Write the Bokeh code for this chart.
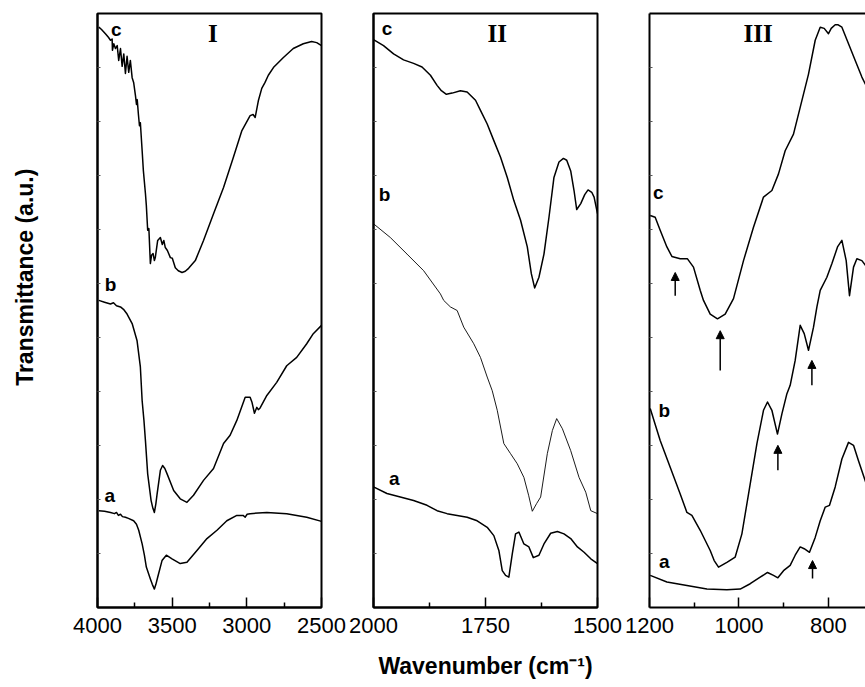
import math
from bokeh.plotting import figure
from bokeh.layouts import row
from bokeh.models import Range1d, FixedTicker, Label, Arrow, NormalHead, LinearAxis
from bokeh.embed import file_html
from bokeh.resources import INLINE

# ---------------- data (wavenumber in cm-1, transmittance in a.u.) ----------------
# Panel I (4000-2500)
p1c_wn = [3991,3973,3947,3927,3913,3902,3900,3891,3880,3868,3858,3846,3835,3824,3813,3802,3791,3780,3768,3758,
          3746,3739,3734,3726,3719,3713,3701,3693,3679,3673,3664,3656,3646,3638,3628,3619,3613,3597,3579,3566,
          3556,3546,3532,3512,3499,3479,3459,3434,3412,3390,3345,3290,3223,3156,3090,3033,2978,2958,2944,2922,
          2900,2878,2856,2822,2755,2689,2622,2566,2532,2500]
p1c_t = [97.7,97.3,96.6,96.0,95.5,95.7,93.8,94.9,94.1,94.6,92.1,94.1,91.1,93.2,89.9,92.8,90.1,92.1,89.2,88.4,
         86.2,84.7,85.5,83.0,81.1,81.6,76.9,73.6,69.7,67.7,63.5,63.8,57.9,59.3,59.6,58.4,58.9,61.8,62.3,61.1,
         61.8,60.6,60.1,58.9,58.8,57.2,56.7,56.4,56.6,57.1,58.4,61.8,66.3,70.7,75.8,80.3,82.8,83.0,82.5,85.4,
         87.4,88.4,89.6,90.9,92.6,94.1,94.9,95.3,95.1,94.6]
p1b_wn = [3991,3953,3913,3893,3873,3846,3826,3802,3768,3735,3713,3701,3689,3679,3664,3641,3629,3619,3609,3601,
          3579,3564,3549,3534,3490,3446,3401,3357,3290,3223,3156,3112,3067,3011,2978,2965,2949,2933,2923,2911,
          2866,2800,2733,2666,2599,2555,2500]
p1b_t = [51.7,51.4,51.1,51.3,50.8,50.6,50.2,49.4,47.8,44.9,40.5,34.8,31.5,28.1,22.5,18.0,16.7,16.0,17.5,19.1,
         23.1,23.9,23.4,22.5,19.7,18.3,17.7,18.9,21.4,23.4,27.6,29.0,31.5,35.4,35.4,34.5,32.7,33.7,33.3,33.6,
         35.7,37.9,40.7,42.1,44.4,46.1,47.5]
p1a_wn = [3991,3953,3913,3886,3873,3860,3846,3833,3813,3793,3758,3739,3724,3701,3686,3673,3646,3633,3619,3609,
          3597,3568,3539,3501,3446,3401,3334,3267,3200,3134,3067,3025,3011,2998,2978,2866,2733,2599,2500]
p1a_t = [16.3,16.2,16.0,15.8,16.0,15.5,15.7,15.3,15.2,15.0,14.6,14.0,13.0,10.7,8.8,6.8,4.8,3.9,3.1,3.9,
         5.1,7.9,8.8,8.2,7.4,7.6,9.6,11.6,13.0,14.6,15.5,15.5,15.2,15.7,15.8,16.0,15.8,15.2,14.5]

# Panel II (2000-1500)
p2c_wn = [2000,1977.6,1955.2,1932.9,1910.5,1891.7,1872.9,1858.1,1848.5,1837.3,1824.5,1806,1791,1772.3,1761.2,
          1746.2,1731.4,1716.4,1701.4,1686.7,1671.7,1656.7,1647.7,1640.3,1630.7,1619.5,1608.3,1597.2,1586,1576.1,
          1568.7,1559.8,1552.4,1546.4,1537.4,1528.5,1521.1,1512.8,1507.6,1500]
p2c_t = [95.6,94.6,93.2,92.2,91.6,91.0,89.6,87.9,87.0,86.4,86.6,87.0,86.8,85.4,83.7,
         81.4,78.6,75.8,72.4,68.5,65.2,60.7,56.2,53.8,55.6,59.5,65.7,72.4,75.0,75.6,
         75.3,73.5,70.2,67.0,68.0,69.5,70.3,69.9,69.1,66.3]
p2b_wn = [2000,1962.6,1925.2,1888.1,1850.7,1843.3,1828.3,1813.3,1798.6,1776.2,1761.2,1746.2,1735,1723.8,1709.1,
          1694.1,1679.1,1664.3,1653.8,1645.5,1635.9,1626.9,1612,1600.7,1591.1,1578.4,1559.8,1541.2,1526.2,1515,1500]
p2b_t = [64.6,62.3,59.5,56.7,52.8,51.7,50.6,50.0,47.2,44.4,42.1,38.8,36.5,33.2,27.6,
         25.9,24.2,21.9,18.9,16.2,17.5,18.6,25.9,29.8,31.8,30.1,26.4,21.9,19.4,16.3,15.8]
p2a_wn = [2000,1970,1940.2,1910.5,1880.5,1858.1,1835.7,1813.3,1791,1768.6,1746.2,1731.4,1720.2,1712.6,1705.2,
          1697.9,1690.3,1682.9,1675.5,1664.3,1653.1,1643.3,1630.7,1619.5,1604.5,1589.5,1574.8,1559.8,1544.8,1530,
          1515,1500]
p2a_t = [20.3,19.2,18.6,18.0,17.2,16.3,15.8,15.5,15.2,14.6,13.5,12.1,9.6,6.2,5.4,
         5.1,9.0,12.4,12.7,10.7,10.2,8.4,8.8,10.7,12.5,12.8,12.4,11.6,10.2,9.3,
         8.2,7.4]

# Panel III (1200-700)
p3c_wn = [1198.4,1187.3,1176.1,1161.1,1149.9,1131.3,1115,1101.6,1086.6,1079.2,1064.2,1047.9,1030.7,1012.1,989.7,
          967.4,945,926.2,911.4,896.5,877.9,862.9,844.3,829.3,818.1,809.2,799.6,793.5,784.6,777.9,
          769.6,754.8,739.8,724.9,713.7]
p3c_t = [66.0,65.7,63.5,60.7,59.1,58.7,58.7,57.3,53.4,51.7,49.4,48.6,49.4,52.0,58.4,
         64.0,69.1,70.2,73.0,76.9,79.7,84.2,89.8,95.5,97.7,97.5,96.6,97.5,98.1,98.1,
         97.7,94.9,92.1,89.3,87.6]
p3b_wn = [1198.4,1176.1,1153.7,1131.3,1116.3,1105.2,1086.6,1064.2,1055.3,1045.6,1026.9,1008.3,993.3,978.5,959.7,
          945,936,926.2,913.7,903.8,892.6,885.3,874.1,862.9,853.9,844.3,833.1,825.5,818.1,803.2,
          791.9,779.4,769.6,760,752.6,743.6,736.1,724.9,713.7]
p3b_t = [33.5,28.1,23.6,19.1,16.0,15.5,13.0,9.6,7.9,6.8,7.6,8.5,12.4,19.1,27.6,
         33.2,34.6,33.2,29.2,32.6,36.0,37.4,41.6,47.5,46.1,43.3,47.2,50.6,53.4,55.6,
         57.9,60.7,61.8,58.4,52.5,57.3,58.7,58.4,57.3]
p3a_wn = [1198.4,1161.1,1116.3,1071.6,1026.9,997.1,974.7,952.4,936,922.6,912.8,900.2,885.3,874.1,862.9,
          853.9,842.1,829.3,818.1,806.9,797.3,784.6,769.6,754.8,743.6,732.5,713.7]
p3a_t = [5.4,4.3,3.7,3.1,3.0,3.1,4.0,5.1,5.9,5.4,5.0,6.2,7.1,8.8,10.2,
         9.9,9.3,11.8,14.6,16.9,17.2,20.3,25.0,27.8,27.3,24.7,20.5]

# Arrows in panel III (wavenumber, tail value, head value)
arrow_wn = [1142.5, 1041.8, 912.8, 836.7, 835.3]
arrow_from = [52.5, 39.9, 23.1, 37.4, 4.9]
arrow_to = [56.4, 46.6, 27.3, 41.6, 7.9]

# Curve labels: (text, wavenumber, value) per panel
labels_I = [("c", 3874, 97.3), ("b", 3913, 54.4), ("a", 3918, 18.8)]
labels_II = [("c", 1970, 97.4), ("b", 1975.6, 69.5), ("a", 1953.7, 21.8)]
labels_III = [("c", 1180.5, 69.9), ("b", 1167, 33.2), ("a", 1167, 7.7)]
panel_titles = [("I", 3228, 96.6), ("II", 1723.8, 96.6), ("III", 956.8, 96.6)]

ticks_I = [4000, 3500, 3000, 2500]
minor_I = [3750, 3250, 2750]
ticks_II = [2000, 1750, 1500]
minor_II = [1875, 1625]
ticks_III = [1200, 1000, 800]
minor_III = [1100, 900]
y_ticks = [100.0 * k / 11 for k in range(1, 11)]

SANS = "Liberation Sans"
SERIF = "Liberation Serif"
H = 687


def make_fig(x_start, x_end, width, bl, br, majors, minors, outline=True):
    p = figure(width=width, height=H, x_range=Range1d(x_start, x_end), y_range=Range1d(0, 100),
               output_backend="svg", toolbar_location=None,
               min_border_left=bl, min_border_right=br, min_border_top=13, min_border_bottom=80)
    p.grid.visible = False
    p.background_fill_color = "white"
    p.border_fill_color = "white"
    if outline:
        p.outline_line_color = "black"
        p.outline_line_width = 2
        p.outline_line_alpha = 1.0
    else:
        p.outline_line_color = None
    xa = p.xaxis[0]
    xa.ticker = FixedTicker(ticks=majors, minor_ticks=minors)
    xa.major_label_text_font = SANS
    xa.major_label_text_font_size = "22px"
    xa.major_label_text_color = "black"
    xa.major_label_standoff = 10
    xa.major_tick_in = 10
    xa.major_tick_out = 0
    xa.minor_tick_in = 5
    xa.minor_tick_out = 0
    xa.major_tick_line_width = 1.5
    xa.minor_tick_line_width = 1.5
    xa.axis_line_width = 2
    xa.axis_line_color = "black"
    ya = p.yaxis[0]
    # only small unlabeled ticks on the left edge
    ya.ticker = FixedTicker(ticks=[], minor_ticks=y_ticks)
    ya.major_label_standoff = 0
    ya.minor_tick_in = 3
    ya.minor_tick_out = 0
    ya.minor_tick_line_color = "#555555"
    ya.minor_tick_line_width = 1
    ya.axis_line_width = 2
    ya.axis_line_color = "black"
    return p


def add_curve_labels(p, labs):
    for txt, x, y in labs:
        p.add_layout(Label(x=x, y=y, text=txt, text_font=SANS, text_font_style="bold",
                           text_font_size="19px", text_align="center", text_baseline="middle",
                           text_color="black"))


def add_title(p, t):
    txt, x, y = t
    p.add_layout(Label(x=x, y=y, text=txt, text_font=SERIF, text_font_style="bold",
                       text_font_size="25px", text_align="center", text_baseline="middle",
                       text_color="black"))


# Strip holding the y-axis title
p0 = figure(width=40, height=H, x_range=Range1d(0, 40), y_range=Range1d(0, 100),
            output_backend="svg", toolbar_location=None, x_axis_location=None, y_axis_location=None,
            min_border_left=0, min_border_right=0, min_border_top=13, min_border_bottom=80)
p0.grid.visible = False
p0.outline_line_color = None
p0.add_layout(Label(x=24, y=55.6, text="Transmittance (a.u.)", angle=math.pi / 2,
                    text_font=SANS, text_font_style="bold", text_font_size="23px",
                    text_align="center", text_baseline="middle", text_color="black"))

# Panel I
p1 = make_fig(4000, 2500, 307, 57, 26, ticks_I, minor_I)
p1.line(p1c_wn, p1c_t, line_color="black", line_width=1.5, line_join="round")
p1.line(p1b_wn, p1b_t, line_color="black", line_width=1.5, line_join="round")
p1.line(p1a_wn, p1a_t, line_color="black", line_width=1.5, line_join="round")
add_curve_labels(p1, labels_I)
add_title(p1, panel_titles[0])

# Panel II
p2 = make_fig(2000, 1500, 276, 26, 26, ticks_II, minor_II)
p2.line(p2c_wn, p2c_t, line_color="black", line_width=1.5, line_join="round")
p2.line(p2b_wn, p2b_t, line_color="black", line_width=0.9, line_join="round")
p2.line(p2a_wn, p2a_t, line_color="black", line_width=1.5, line_join="round")
add_curve_labels(p2, labels_II)
add_title(p2, panel_titles[1])
p2.xaxis[0].axis_label = "Wavenumber (cm\u207b\u00b9)"
p2.xaxis[0].axis_label_text_font = SANS
p2.xaxis[0].axis_label_text_font_style = "bold"
p2.xaxis[0].axis_label_text_font_size = "23px"
p2.xaxis[0].axis_label_text_color = "black"
p2.xaxis[0].axis_label_standoff = 17

# Panel III (cut at right edge of the picture)
p3 = make_fig(1200, 716.8, 242, 26, 0, ticks_III, minor_III, outline=False)
top_axis = LinearAxis(ticker=FixedTicker(ticks=[], minor_ticks=[]),
                      major_label_standoff=0, major_tick_in=0, major_tick_out=0,
                      minor_tick_in=0, minor_tick_out=0, axis_line_width=2, axis_line_color="black")
p3.add_layout(top_axis, "above")
p3.line(p3c_wn, p3c_t, line_color="black", line_width=1.5, line_join="round")
p3.line(p3b_wn, p3b_t, line_color="black", line_width=1.5, line_join="round")
p3.line(p3a_wn, p3a_t, line_color="black", line_width=1.5, line_join="round")
for xw, y0, y1 in zip(arrow_wn, arrow_from, arrow_to):
    p3.add_layout(Arrow(x_start=xw, y_start=y0, x_end=xw, y_end=y1, line_width=1.5, line_color="black",
                        end=NormalHead(size=8, fill_color="black", line_color="black", line_width=1)))
add_curve_labels(p3, labels_III)
add_title(p3, panel_titles[2])

layout = row(p0, p1, p2, p3, spacing=0)
open("out.html", "w").write(file_html(layout, INLINE))
